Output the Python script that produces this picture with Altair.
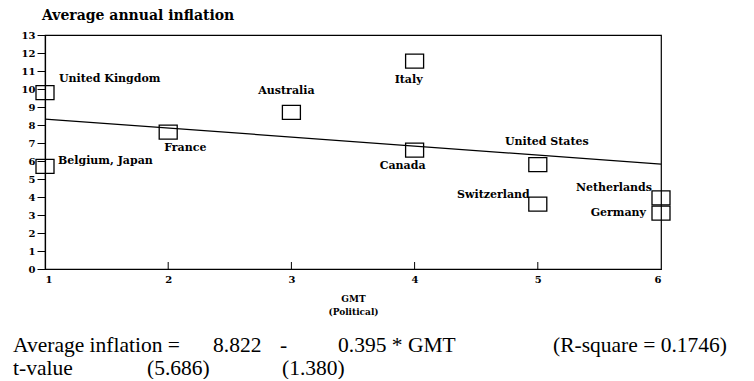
import altair as alt
import pandas as pd

# ---- data ----
countries = ["United Kingdom", "Belgium, Japan", "France", "Australia", "Italy",
             "Canada", "United States", "Switzerland", "Netherlands", "Germany"]
gmt = [1, 1, 2, 3, 4, 4, 5, 5, 6, 6]
inflation = [9.8, 5.7, 7.6, 8.7, 11.55, 6.6, 5.8, 3.6, 3.95, 3.1]

fit_gmt = [1, 6]
fit_inflation = [8.33, 5.83]

x_ticks = [1, 2, 3, 4, 5, 6]
inner_x_ticks = [2, 3, 4, 5]
y_ticks = list(range(0, 14))

title_text = "Average annual inflation"
x_title = ["GMT", "(Political)"]
eq_line1 = ["Average inflation =", "8.822", "-", "0.395 * GMT", "(R-square = 0.1746)"]
eq_line2 = ["t-value", "(5.686)", "(1.380)"]

# ---- layout / style (not data) ----
W, H = 616, 234
LABEL_FONT = "DejaVu Serif"
EQ_FONT = "Liberation Serif"

label_place = {
    "United Kingdom": (14, -14, "left"),
    "Belgium, Japan": (13, -5, "left"),
    "France": (-4, 16, "left"),
    "Australia": (-5, -21, "center"),
    "Italy": (-6, 19, "center"),
    "Canada": (-12, 16, "center"),
    "United States": (9, -23, "center"),
    "Switzerland": (-8, -9, "right"),
    "Netherlands": (-9, -10, "right"),
    "Germany": (-15, 0, "right"),
}
eq1_x = [-32, 168, 235, 293, 508]
eq2_x = [-32, 102, 237]
eq1_y, eq2_y = 317, 340

df = pd.DataFrame({"country": countries, "gmt": gmt, "inflation": inflation})
fit_df = pd.DataFrame({"gmt": fit_gmt, "inflation": fit_inflation})

x_scale = alt.Scale(domain=[1, 6], nice=False, zero=False)
y_scale = alt.Scale(domain=[0, 13], nice=False, zero=False)

x_axis = alt.Axis(values=x_ticks, format="d", title=x_title, tickSize=0,
                  labelPadding=5, labelFontSize=10, titleFontSize=9,
                  titleFont=LABEL_FONT, titleFontWeight="bold",
                  titlePadding=10, titleLineHeight=13, labelOverlap=False)
y_axis = alt.Axis(values=y_ticks, format="d", title=None, tickSize=8,
                  labelPadding=2, labelFontSize=10, labelOverlap=False)

box = "M-1,-0.78L1,-0.78L1,0.78L-1,0.78Z"

points = alt.Chart(df).mark_point(
    shape=box, size=324, filled=False, stroke="black", strokeWidth=1.3, opacity=1
).encode(
    x=alt.X("gmt:Q", scale=x_scale, axis=x_axis),
    y=alt.Y("inflation:Q", scale=y_scale, axis=y_axis),
)

fit_line = alt.Chart(fit_df).mark_line(color="black", strokeWidth=1.2).encode(
    x=alt.X("gmt:Q", scale=x_scale, axis=x_axis),
    y=alt.Y("inflation:Q", scale=y_scale, axis=y_axis),
)

inner_ticks = alt.Chart(pd.DataFrame({"t": inner_x_ticks})).mark_rule(
    color="black", strokeWidth=1
).encode(
    x=alt.X("t:Q", scale=x_scale, axis=x_axis),
    y=alt.value(H),
    y2=alt.value(H - 7),
)

layers = [fit_line, inner_ticks, points]

for c in countries:
    dx, dy, al = label_place[c]
    layers.append(
        alt.Chart(df).transform_filter(alt.datum.country == c).mark_text(
            dx=dx, dy=dy, align=al, baseline="middle", font=LABEL_FONT,
            fontWeight="bold", fontSize=11, color="black"
        ).encode(
            x=alt.X("gmt:Q", scale=x_scale, axis=x_axis),
            y=alt.Y("inflation:Q", scale=y_scale, axis=y_axis),
            text="country:N",
        )
    )

layers.append(
    alt.Chart(pd.DataFrame({"t": [title_text]})).mark_text(
        align="left", baseline="alphabetic", font=LABEL_FONT, fontWeight="bold",
        fontSize=14, color="black"
    ).encode(text="t:N", x=alt.value(-3), y=alt.value(-15))
)

for txt, xp in zip(eq_line1, eq1_x):
    layers.append(
        alt.Chart(pd.DataFrame({"t": [txt]})).mark_text(
            align="left", baseline="alphabetic", font=EQ_FONT, fontSize=21.5,
            color="black"
        ).encode(text="t:N", x=alt.value(xp), y=alt.value(eq1_y))
    )
for txt, xp in zip(eq_line2, eq2_x):
    layers.append(
        alt.Chart(pd.DataFrame({"t": [txt]})).mark_text(
            align="left", baseline="alphabetic", font=EQ_FONT, fontSize=21.5,
            color="black"
        ).encode(text="t:N", x=alt.value(xp), y=alt.value(eq2_y))
    )

chart = alt.layer(*layers).properties(
    width=W, height=H,
    autosize=alt.AutoSizeParams(type="none"),
    padding={"left": 37, "top": 27, "right": 85, "bottom": 110},
).configure_view(
    stroke="black", strokeWidth=1.2
).configure_axis(
    grid=False, domainColor="black", domainWidth=1.2, tickColor="black",
    labelColor="black", titleColor="black", labelFont=LABEL_FONT,
    labelFontWeight="bold"
)

chart.save("out.html", embed_options={"renderer": "svg", "actions": False})
